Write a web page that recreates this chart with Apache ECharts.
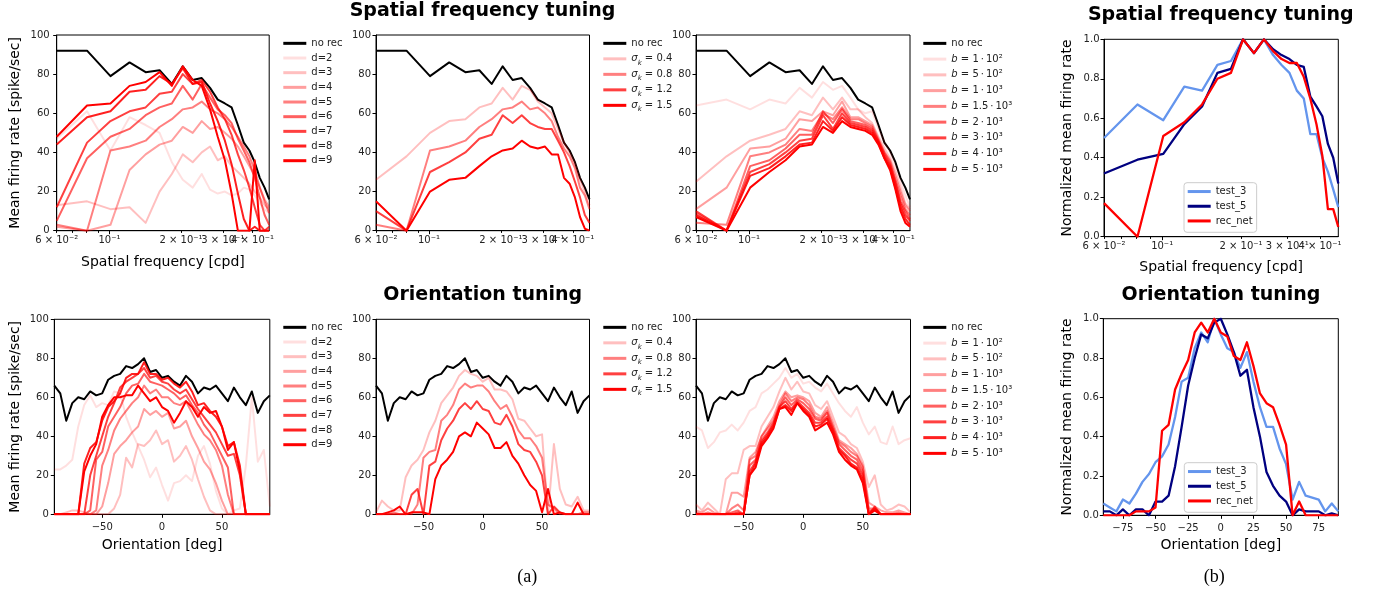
<!DOCTYPE html>
<html><head><meta charset="utf-8">
<script src="https://cdn.jsdelivr.net/npm/echarts@6/dist/echarts.min.js"></script>
<style>html,body{margin:0;padding:0;background:#fff}#c{width:1385px;height:594px}</style>
</head><body><div id="c"></div>
<script>
// ---------------- DATA ----------------
const sfFreq = [0.06,0.0805,0.101,0.1215,0.142,0.1625,0.183,0.2035,0.224,0.2445,0.265,0.2855,0.306,0.3265,0.347,0.3675,0.388,0.4085,0.429,0.4495,0.47];
const oriDeg = [-90,-85,-80,-75,-70,-65,-60,-55,-50,-45,-40,-35,-30,-25,-20,-15,-10,-5,0,5,10,15,20,25,30,35,40,45,50,55,60,65,70,75,80,85,90];

const sfMinorTicks = [0.06,0.07,0.08,0.09,0.2,0.3,0.4];
const sfMajorTicks = [0.1];
const sfLabelVals = [0.06,0.1,0.2,0.3,0.4];
const sfLabelText = ['6 \u00d7 10\u207b\u00b2','10\u207b\u00b9','2 \u00d7 10\u207b\u00b9','3 \u00d7 10\u207b\u00b9','4 \u00d7 10\u207b\u00b9'];
const oriTicksA = [-50,0,50];
const oriTicksB = [-75,-50,-25,0,25,50,75];

// no recurrence (shared)
const noRecSF = [92,92,79,86,81,82,75,84,77,78,73,67,65,63,54,45,41,35,27,22,16];
const noRecOri = [66,62,48,57,60,59,63,61,62,69,71,72,76,75,77,80,73,74,70,71,68,66,71,68,62,65,64,66,62,58,65,60,56,63,52,58,61];

// depth d
const dLabels = ['d=2','d=3','d=4','d=5','d=6','d=7','d=8','d=9'];
const sfDepth = [
  [47,61,41,58,54,50,35,26,22,29,21,19,20,18,19,22,21,18,14,11,9],
  [13,15,11,12,4,20,29,39,35,40,43,36,38,33,30,27,24,20,17,13,11],
  [2,0,3,31,39,44,46,53,50,56,52,53,50,47,43,38,33,28,22,16,12],
  [3,0,41,43,46,53,57,62,63,66,62,60,57,53,48,43,38,31,22,15,9],
  [5,37,48,52,59,63,65,74,67,75,68,62,59,55,47,41,35,27,17,8,3],
  [12,45,56,61,63,70,71,80,75,77,71,63,57,49,39,31,22,12,3,0,2],
  [44,58,61,71,72,79,75,83,75,76,65,56,46,34,19,6,0,2,0,0,0],
  [48,64,65,74,76,81,74,84,77,74,62,48,36,19,0,0,0,36,0,0,0]
];
const oriDepth = [
  [23,23,25,28,45,56,61,55,57,56,63,62,50,42,35,28,19,24,15,7,16,17,20,17,30,35,26,12,3,0,2,3,25,60,27,33,4],
  [0,0,1,2,2,1,0,0,0,0,3,10,29,24,36,35,38,43,36,38,27,30,35,28,18,9,2,0,0,0,0,0,0,0,0,0,0],
  [0,0,0,0,0,0,0,0,4,16,31,35,38,42,45,54,51,53,50,52,44,45,48,40,34,27,23,16,7,0,0,0,0,0,0,0,0],
  [0,0,0,0,0,0,0,2,25,33,43,49,53,57,60,66,62,64,60,60,57,56,58,52,46,41,38,33,25,10,0,0,0,0,0,0,0],
  [0,0,0,0,0,0,2,28,32,45,50,55,62,66,67,72,68,67,66,64,62,59,61,56,52,46,42,36,30,24,0,0,0,0,0,0,0],
  [0,0,0,0,0,0,20,30,40,50,57,65,68,70,72,75,70,71,68,67,64,62,64,59,54,50,46,42,36,30,31,20,0,0,0,0,0],
  [0,0,0,0,0,26,34,37,48,55,58,62,70,72,72,78,72,72,69,70,67,65,68,63,56,57,53,50,45,35,37,25,0,0,0,0,0],
  [0,0,0,0,0,22,30,36,50,56,60,60,61,61,66,62,58,60,55,53,47,52,58,55,50,55,52,53,45,33,37,22,0,0,0,0,0]
];

// kernel width sigma_k
const sigmaLabels = ['0.4','0.8','1.2','1.5'];
const sfSigma = [
  [26,38,50,56,57,63,65,73,67,74,72,66,63,60,52,45,40,34,26,20,13],
  [3,0,41,43,46,53,57,62,63,66,62,63,60,56,48,42,38,32,22,18,11],
  [10,0,30,35,40,47,49,59,55,59,55,53,52,52,46,40,33,25,17,8,4],
  [15,0,20,26,27,33,38,41,42,46,43,42,43,39,39,27,24,17,7,1,0]
];
const oriSigma = [
  [1,7,4,2,2,19,25,28,33,42,48,57,61,65,71,74,72,71,68,70,64,64,63,59,49,48,44,40,41,0,36,13,5,4,9,2,2],
  [0,0,0,1,0,0,0,5,29,32,33,48,51,56,64,67,65,66,66,63,58,54,56,50,43,39,39,35,29,5,3,0,0,0,0,1,1],
  [0,0,0,0,0,0,10,13,0,25,27,38,44,48,54,57,54,58,54,53,47,46,51,45,36,33,32,27,20,0,4,1,0,0,0,0,0],
  [0,0,1,2,4,0,1,1,1,0,18,25,28,32,40,42,40,47,44,41,34,34,37,30,26,20,15,12,1,13,0,1,0,0,6,0,0]
];

// parameter b
const bMant = ['1','5','1','1.5','2','3','4','5'];
const bExp = ['\u00b2','\u00b2','\u00b3','\u00b3','\u00b3','\u00b3','\u00b3','\u00b3'];
const sfB = [
  [64,67,62,67,65,73,68,76,72,74,68,62,60,61,52,45,40,33,25,18,12],
  [25,38,46,49,52,61,59,68,62,68,62,62,58,55,48,42,37,30,22,14,11],
  [11,22,42,43,47,57,56,61,59,66,58,58,56,54,47,40,36,28,20,13,10],
  [4,3,38,40,44,52,51,60,57,63,57,57,55,53,46,40,35,26,18,11,8],
  [9,0,33,36,42,49,49,61,55,62,56,55,54,52,46,39,34,25,15,10,6],
  [10,0,30,34,40,46,47,59,52,60,55,54,53,51,45,38,33,24,14,8,5],
  [8,0,28,32,38,44,45,56,51,58,54,53,52,50,45,37,32,22,12,6,3],
  [7,0,22,30,36,43,44,53,50,56,53,52,51,49,44,37,31,21,10,4,2]
];
const oriB = [
  [45,43,34,37,42,43,46,43,47,53,55,62,64,67,70,75,70,72,67,68,65,63,67,62,57,53,50,55,47,41,45,37,36,45,36,38,39],
  [5,2,6,3,0,18,21,21,33,35,35,45,50,55,63,70,64,68,63,62,56,54,58,50,42,40,36,34,27,14,20,5,2,3,5,4,1],
  [2,1,3,1,0,0,11,11,9,29,32,40,45,50,58,63,60,61,60,58,52,50,55,47,38,36,34,31,25,6,4,2,1,1,2,1,0],
  [1,0,1,0,0,0,3,5,2,28,30,40,44,48,56,62,58,60,59,56,50,49,53,45,37,35,32,30,24,3,3,0,0,0,1,0,0],
  [0,0,0,0,0,0,1,2,0,25,28,38,42,47,55,60,56,59,57,54,49,48,52,44,36,33,30,28,22,2,2,0,0,0,0,0,0],
  [0,0,0,0,0,0,0,1,0,22,27,37,41,46,55,58,54,58,55,52,47,47,50,43,34,31,28,26,20,0,4,0,0,0,0,0,0],
  [0,0,0,0,0,0,0,0,0,20,26,36,40,45,54,56,53,57,54,51,45,46,49,42,33,30,26,24,18,0,3,0,0,0,0,0,0],
  [0,0,0,0,0,0,0,0,0,20,24,35,39,44,54,55,51,57,53,50,43,45,47,41,32,28,25,23,16,0,2,0,0,0,0,0,0]
];

// normalized comparison (b)
const test3SF = [0.50,0.67,0.59,0.76,0.74,0.87,0.89,1.0,0.93,1.0,0.92,0.87,0.83,0.74,0.70,0.52,0.52,0.40,0.33,0.24,0.15];
const test5SF = [0.32,0.39,0.42,0.57,0.66,0.83,0.85,1.0,0.93,1.0,0.95,0.92,0.90,0.87,0.86,0.71,0.66,0.61,0.47,0.40,0.27];
const recSF   = [0.17,0.0,0.51,0.58,0.67,0.80,0.83,1.0,0.93,1.0,0.94,0.90,0.88,0.88,0.81,0.70,0.57,0.41,0.14,0.14,0.05];
const test3Ori = [0.06,0.04,0.02,0.08,0.06,0.11,0.17,0.21,0.27,0.30,0.36,0.50,0.68,0.70,0.85,0.93,0.88,1.0,0.92,0.85,0.83,0.75,0.83,0.68,0.55,0.45,0.45,0.34,0.26,0.08,0.17,0.10,0.09,0.08,0.02,0.06,0.02];
const test5Ori = [0.02,0.02,0.0,0.03,0.0,0.03,0.03,0.0,0.07,0.07,0.10,0.25,0.45,0.66,0.80,0.92,0.90,0.98,1.0,0.92,0.83,0.71,0.74,0.55,0.40,0.22,0.15,0.10,0.07,0.0,0.03,0.02,0.02,0.02,0.0,0.01,0.0];
const recOri   = [0,0,0,0,0,0.02,0.02,0.02,0.04,0.43,0.46,0.64,0.72,0.79,0.93,0.98,0.93,1.0,0.93,0.91,0.81,0.79,0.88,0.76,0.62,0.57,0.55,0.46,0.36,0.0,0.07,0.0,0,0,0,0,0];

// ---------------- BUILD ----------------
const FONT = 'DejaVu Sans';
const alpha8 = [0.125,0.25,0.375,0.5,0.625,0.75,0.875,1];
const alpha4 = [0.25,0.5,0.75,1];
const red = a => 'rgba(255,0,0,' + a + ')';
const pairs = (xs, ys) => xs.map((x, i) => [x, ys[i]]);

const option = {animation:false, backgroundColor:'#fff', grid:[], xAxis:[], yAxis:[], series:[], legend:[], graphic:[]};

function addGrid(l, t, w, h) {
  option.grid.push({left:l, top:t, width:w, height:h, show:true, borderColor:'#000', borderWidth:1, backgroundColor:'rgba(0,0,0,0)'});
  return option.grid.length - 1;
}
const axisBase = () => ({
  axisLine:{show:true, onZero:false, lineStyle:{color:'#000', width:1}},
  splitLine:{show:false},
  nameLocation:'middle',
  nameTextStyle:{fontSize:14, fontFamily:FONT, color:'#000'}
});
const sfFmt = v => { const k = sfLabelVals.findIndex(s => Math.abs(s - v) < 1e-6); return k >= 0 ? sfLabelText[k] : ''; };
const sfLabel = vals => ({customValues:vals, hideOverlap:false, fontSize:10, fontFamily:FONT, color:'#222', margin:5, formatter:sfFmt});
function addSFAxis(gi, name, gap) {
  // main log axis: spine, minor ticks, two labels
  option.xAxis.push(Object.assign(axisBase(), {
    type:'log', logBase:10, gridIndex:gi, min:0.06, max:0.47,
    axisTick:{show:true, length:2.2, lineStyle:{color:'#000'}, customValues:sfMinorTicks},
    axisLabel:sfLabel([0.06, 0.2]),
    minorTick:{show:false}, name:name || '', nameGap:gap || 0
  }));
  // companion log axes on the same grid (same scale) so adjacent labels are not auto-hidden
  option.xAxis.push({
    type:'log', logBase:10, gridIndex:gi, min:0.06, max:0.47, position:'bottom',
    axisLine:{show:false}, splitLine:{show:false}, minorTick:{show:false},
    axisTick:{show:true, length:3.5, lineStyle:{color:'#000'}, customValues:sfMajorTicks},
    axisLabel:sfLabel([0.1, 0.3])
  });
  option.xAxis.push({
    type:'log', logBase:10, gridIndex:gi, min:0.06, max:0.47, position:'bottom',
    axisLine:{show:false}, splitLine:{show:false}, minorTick:{show:false}, axisTick:{show:false},
    axisLabel:sfLabel([0.4])
  });
}
function addOriAxis(gi, ticks, name, gap) {
  option.xAxis.push(Object.assign(axisBase(), {
    type:'value', gridIndex:gi, min:-90, max:90,
    axisTick:{show:true, length:3.5, lineStyle:{color:'#000'}, customValues:ticks},
    axisLabel:{customValues:ticks, fontSize:10, fontFamily:FONT, color:'#222', margin:8.5,
      formatter:v => v < 0 ? '\u2212' + Math.abs(v) : String(v)},
    name:name || '', nameGap:gap || 0
  }));
}
function addYAxis(gi, norm, name, gap, margin) {
  option.yAxis.push(Object.assign(axisBase(), {
    type:'value', gridIndex:gi, min:0, max:norm ? 1 : 100, interval:norm ? 0.2 : 20,
    axisTick:{show:true, length:3.5, lineStyle:{color:'#000'}},
    axisLabel:{fontSize:10, fontFamily:FONT, color:'#222', margin:margin || 5,
      formatter:v => norm ? v.toFixed(1) : String(v)},
    name:name || '', nameGap:gap || 0
  }));
}
let xIdx = 0;
function addLine(gi, name, xs, ys, color, width) {
  option.series.push({type:'line', name:name, xAxisIndex:xIdx, yAxisIndex:gi, data:pairs(xs, ys),
    symbol:'none', silent:true, emphasis:{disabled:true},
    lineStyle:{width:width || 2, color:color, join:'round'}, itemStyle:{color:color}});
}
function addLegend(names, left, top, lh, formatter, boxed) {
  const L = {orient:'vertical', left:left, top:top, padding:0, itemGap:0, itemWidth:23, itemHeight:3,
    icon:'rect', selectedMode:false, data:names,
    textStyle:{fontSize:10, fontFamily:FONT, color:'#222', lineHeight:lh,
      rich:{
        it:{fontStyle:'italic', fontSize:10, fontFamily:FONT, color:'#222', lineHeight:lh},
        sub:{fontStyle:'italic', fontSize:7, fontFamily:FONT, color:'#222', lineHeight:8, verticalAlign:'bottom'},
        n:{fontSize:10, fontFamily:FONT, color:'#222', lineHeight:lh}
      }}};
  if (formatter) L.formatter = formatter;
  if (boxed) Object.assign(L, {padding:[1.5,4,4,3.7], borderColor:'#cccccc', borderWidth:1, borderRadius:3, backgroundColor:'rgba(255,255,255,0.85)'});
  option.legend.push(L);
}

const YNAME = 'Mean firing rate [spike/sec]';
const NNAME = 'Normalized mean firing rate';
const sigFmt = name => name === 'no rec' ? name : '{it|\u03c3}{sub|k}{n| = ' + name.slice(1) + '}';
const bFmt = name => { if (name === 'no rec') return name; const i = +name.slice(1); return '{it|b}{n| = ' + bMant[i] + '\u2009\u00b7\u200910' + bExp[i] + '}'; };

// ---- Row 1: spatial frequency ----
let g;
g = addGrid(56.7, 35, 212.5, 195.7); xIdx = option.xAxis.length; addSFAxis(g, 'Spatial frequency [cpd]', 24.5); addYAxis(g, false, YNAME, 34, 7);
addLine(g, 'no rec', sfFreq, noRecSF, '#000');
dLabels.forEach((n, i) => addLine(g, n, sfFreq, sfDepth[i], red(alpha8[i])));
addLegend(['no rec'].concat(dLabels), 283.3, 36, 14.67);

g = addGrid(376, 35, 213.5, 195.7); xIdx = option.xAxis.length; addSFAxis(g); addYAxis(g, false);
addLine(g, 'no rec', sfFreq, noRecSF, '#000');
sigmaLabels.forEach((n, i) => addLine(g, 's' + n, sfFreq, sfSigma[i], red(alpha4[i])));
addLegend(['no rec'].concat(sigmaLabels.map(s => 's' + s)), 603.3, 35.6, 15.5, sigFmt);

g = addGrid(696, 35, 214, 195.7); xIdx = option.xAxis.length; addSFAxis(g); addYAxis(g, false);
addLine(g, 'no rec', sfFreq, noRecSF, '#000');
bMant.forEach((m, i) => addLine(g, 'b' + i, sfFreq, sfB[i], red(alpha8[i])));
addLegend(['no rec'].concat(bMant.map((m, i) => 'b' + i)), 923.3, 35.5, 15.75, bFmt);

g = addGrid(1104, 39.3, 234.3, 197.4); xIdx = option.xAxis.length; addSFAxis(g, 'Spatial frequency [cpd]', 23.5); addYAxis(g, true, NNAME, 30, 4.5);
addLine(g, 'test_3', sfFreq, test3SF, '#6495ED', 2.3);
addLine(g, 'test_5', sfFreq, test5SF, '#000080', 2.3);
addLine(g, 'rec_net', sfFreq, recSF, '#ff0000', 2.3);
addLegend(['test_3','test_5','rec_net'], 1184, 182.7, 14.7, null, true);

// ---- Row 2: orientation ----
g = addGrid(54.3, 319.3, 215.5, 195); xIdx = option.xAxis.length; addOriAxis(g, oriTicksA, 'Orientation [deg]', 24.5); addYAxis(g, false, YNAME, 32, 5.5);
addLine(g, 'no rec', oriDeg, noRecOri, '#000');
dLabels.forEach((n, i) => addLine(g, n, oriDeg, oriDepth[i], red(alpha8[i])));
addLegend(['no rec'].concat(dLabels), 283.3, 320, 14.67);

g = addGrid(376, 319.3, 213.5, 195); xIdx = option.xAxis.length; addOriAxis(g, oriTicksA); addYAxis(g, false);
addLine(g, 'no rec', oriDeg, noRecOri, '#000');
sigmaLabels.forEach((n, i) => addLine(g, 's' + n, oriDeg, oriSigma[i], red(alpha4[i])));
addLegend(['no rec'].concat(sigmaLabels.map(s => 's' + s)), 603.3, 319.6, 15.5, sigFmt);

g = addGrid(696, 319.3, 214.5, 195); xIdx = option.xAxis.length; addOriAxis(g, oriTicksA); addYAxis(g, false);
addLine(g, 'no rec', oriDeg, noRecOri, '#000');
bMant.forEach((m, i) => addLine(g, 'b' + i, oriDeg, oriB[i], red(alpha8[i])));
addLegend(['no rec'].concat(bMant.map((m, i) => 'b' + i)), 923.3, 319.5, 15.75, bFmt);

g = addGrid(1103.3, 318.7, 235, 196.6); xIdx = option.xAxis.length; addOriAxis(g, oriTicksB, 'Orientation [deg]', 23.5); addYAxis(g, true, NNAME, 29, 4.5);
addLine(g, 'test_3', oriDeg, test3Ori, '#6495ED', 2.3);
addLine(g, 'test_5', oriDeg, test5Ori, '#000080', 2.3);
addLine(g, 'rec_net', oriDeg, recOri, '#ff0000', 2.3);
addLegend(['test_3','test_5','rec_net'], 1184.3, 462.7, 14.7, null, true);

// ---- Titles & captions ----
const T = (x, y, text, font) => ({type:'text', x:x, y:y, silent:true,
  style:{text:text, font:font, fill:'#000', align:'center', verticalAlign:'middle'}});
option.graphic = [
  T(482.5, 11, 'Spatial frequency tuning', 'bold 19px "DejaVu Sans"'),
  T(482.7, 295, 'Orientation tuning', 'bold 19px "DejaVu Sans"'),
  T(1220.8, 15, 'Spatial frequency tuning', 'bold 19px "DejaVu Sans"'),
  T(1221, 295, 'Orientation tuning', 'bold 19px "DejaVu Sans"'),
  T(527.3, 577.7, '(a)', '18px "Liberation Serif"'),
  T(1214.3, 577.7, '(b)', '18px "Liberation Serif"')
];

const chart = echarts.init(document.getElementById('c'), null, {renderer:'canvas'});
chart.setOption(option);
</script></body></html>
